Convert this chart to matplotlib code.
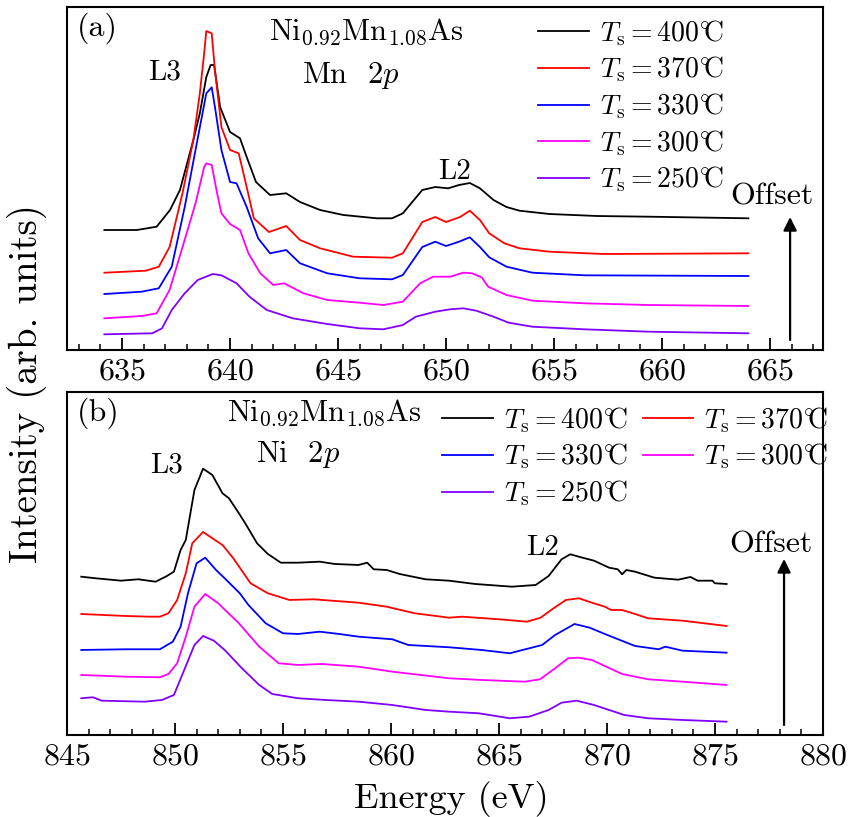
import matplotlib
matplotlib.use("Agg")
import matplotlib.pyplot as plt
from matplotlib.ticker import MultipleLocator

# ---- data (intensity in arb. units, offsets included) ----
labels = ["400", "370", "330", "300", "250"]
colors = ["black", "#ff0000", "#0000ff", "#ff00ff", "#8000ff"]

# (a) Mn 2p
e_mn400 = [634.18, 635.68, 636.6, 637.22, 637.68, 638.3, 638.6, 638.9, 639.1, 639.26, 639.54, 640.0,
           640.46, 640.77, 641.2, 641.85, 642.6, 643.24, 644.17, 645.25, 646.8, 647.5, 648.0, 648.9,
           649.5, 650.1, 650.6, 651.1, 651.57, 652.2, 652.8, 653.4, 654.8, 657.0, 659.44, 664.0]
i_mn400 = [120, 120, 123.3, 140, 160, 210, 236.7, 273, 285, 285, 243, 218,
           211.7, 193, 168, 155, 156.7, 148, 140, 135, 131.7, 131.7, 136.7, 160,
           163, 161.7, 165, 167, 161.7, 150, 143, 139.3, 136, 134, 133.3, 131.7]

e_mn370 = [634.18, 636.1, 636.7, 637.2, 637.8, 638.3, 638.6, 638.8, 638.9, 639.15, 639.3, 639.6,
           640.0, 640.4, 640.77, 641.1, 641.8, 642.6, 643.24, 644.17, 645.7, 647.5, 648.0, 648.9,
           649.5, 650.0, 650.65, 651.1, 651.57, 652.0, 652.7, 653.4, 654.8, 657.3, 664.0]
i_mn370 = [77.3, 79.3, 83.3, 103, 157, 210, 256.7, 296.7, 319, 316.7, 280, 223,
           200, 196.7, 163, 131.7, 118, 124, 110, 101.7, 93.3, 92.3, 96.7, 128,
           133, 128, 133, 139.3, 130, 116.7, 106.7, 101.7, 98.3, 96, 96.7]

e_mn330 = [634.18, 635.9, 636.7, 637.3, 637.9, 638.4, 638.9, 639.15, 639.3, 639.6, 640.0, 640.3,
           640.77, 641.3, 641.85, 642.6, 643.24, 644.5, 646.0, 647.5, 648.0, 648.9, 649.5, 650.0,
           650.6, 651.1, 651.57, 652.0, 652.8, 654.0, 656.4, 664.0]
i_mn330 = [56, 58.3, 61.7, 83.3, 143, 200, 256.7, 262.7, 243, 200, 168, 166.7,
           143, 111.7, 96.7, 100, 86.7, 76.7, 71.7, 70.7, 75, 103, 108.3, 104,
           108.3, 112.7, 103, 92.7, 83.3, 77.3, 74.7, 74]

e_mn300 = [634.18, 635.9, 636.6, 637.2, 637.8, 638.4, 638.8, 638.9, 639.15, 639.4, 639.6, 640.0,
           640.46, 640.85, 641.4, 642.0, 642.5, 643.4, 644.5, 646.0, 647.1, 648.0, 648.8, 649.4,
           650.19, 650.8, 651.2, 651.65, 651.95, 652.8, 654.0, 656.4, 659.4, 664.0]
i_mn300 = [31.7, 34, 36.7, 60, 103, 146.7, 183, 186.7, 185, 156.7, 136.7, 126,
           120, 96.7, 76.7, 65, 66.7, 56.7, 50, 47.3, 45, 48.3, 66.7, 73.3,
           73.3, 77.3, 76.7, 72.7, 63.3, 55, 49.3, 46.7, 45, 44]

e_mn250 = [634.18, 636.4, 636.85, 637.3, 637.9, 638.5, 639.2, 639.6, 640.3, 640.9, 641.7, 642.9,
           644.5, 646.0, 647.1, 648.0, 648.6, 649.5, 650.19, 650.8, 651.4, 652.2, 652.9, 654.0,
           656.4, 659.4, 664.0]
i_mn250 = [15.7, 16.7, 21.7, 40, 56.7, 70, 76, 74.7, 66.7, 53.3, 40, 31.7,
           26, 21.7, 20.7, 25, 33.3, 38.3, 40.7, 41.7, 39.3, 33.3, 27.3, 23.3,
           20.7, 18.3, 16.7]

# (b) Ni 2p
e_ni400 = [845.66, 846.33, 847.5, 848.3, 849.1, 849.57, 849.95, 850.26, 850.5, 850.9, 851.3, 851.73,
           852.2, 852.5, 852.96, 853.3, 853.8, 854.3, 854.9, 855.7, 856.7, 857.4, 858.5, 858.9,
           859.2, 859.8, 860.4, 861.6, 862.69, 863.9, 865.6, 866.7, 867.3, 867.9, 868.3, 868.8,
           869.4, 870.1, 870.5, 870.7, 870.9, 871.3, 872.2, 873.3, 873.87, 874.2, 874.88, 875.0,
           875.54]
i_ni400 = [158.3, 156.7, 154.3, 155.7, 153.3, 158.3, 163.3, 185, 195, 245, 266.3, 260,
           241.7, 236.7, 221.7, 210, 191.7, 181, 172.3, 172.3, 173.3, 171, 170, 172.3,
           165.7, 165, 161, 155.7, 154.3, 151, 148.3, 150, 159, 175.7, 180.7, 177.7,
           174.3, 167.3, 165.7, 160.7, 165, 163.3, 157.3, 155.3, 158, 154.3, 154.3, 151.7,
           151]

e_ni370 = [845.66, 847.7, 848.8, 849.3, 849.7, 850.1, 850.5, 850.8, 851.3, 851.73, 852.2, 852.7,
           853.5, 854.3, 855.3, 856.4, 858.5, 859.8, 861.1, 862.69, 863.3, 865.0, 866.3, 866.93,
           867.5, 868.1, 868.7, 869.3, 869.9, 870.2, 870.7, 871.3, 871.9, 873.5, 875.54]
i_ni370 = [121, 119, 118.3, 118.3, 121.7, 135, 161.7, 191.7, 203, 196.7, 190, 176.7,
           151.7, 141.7, 135, 135.7, 132.3, 128.3, 121.7, 117.3, 118.3, 115.7, 113.3, 117.3,
           126.3, 135, 136.7, 132.3, 128.3, 125, 125, 121, 116.7, 114.3, 109]

e_ni330 = [845.66, 847.7, 849.3, 849.9, 850.26, 850.6, 851.0, 851.4, 851.9, 852.3, 853.0, 853.4,
           854.2, 855.0, 855.7, 856.7, 857.6, 858.5, 860.06, 860.8, 862.69, 864.2, 865.5, 867.0,
           867.6, 868.5, 869.2, 869.9, 871.3, 872.4, 872.7, 873.5, 875.54]
i_ni330 = [85, 85.7, 85.7, 93.3, 108.3, 141.7, 171.7, 177.3, 165, 156.7, 141.7, 130,
           111.7, 101.7, 101, 103.3, 101, 98.3, 95.7, 90, 87.7, 85, 81.7, 90,
           100, 111, 107.3, 101, 89, 85.7, 88.3, 84.3, 82.3]

e_ni300 = [845.66, 847.7, 849.3, 849.7, 850.1, 850.5, 850.9, 851.4, 852.0, 852.96, 853.9, 854.8,
           855.7, 856.8, 858.5, 860.06, 862.69, 864.2, 866.2, 866.9, 867.6, 868.2, 868.7, 869.3,
           870.7, 871.9, 873.5, 875.54]
i_ni300 = [60, 58.3, 57.7, 61, 71.7, 98.3, 128.3, 141, 131.7, 111.7, 88.3, 71.7,
           70, 71, 68.3, 63.3, 56.7, 55, 53.3, 55.7, 66.7, 76.7, 77.3, 75,
           61, 55.7, 53.3, 50]

e_ni250 = [845.66, 846.2, 846.6, 848.6, 849.4, 849.95, 850.3, 850.9, 851.3, 851.8, 852.3, 853.1,
           853.9, 854.5, 855.7, 856.97, 858.5, 860.06, 861.6, 862.69, 864.06, 865.5, 866.4, 867.3,
           867.9, 868.6, 869.4, 870.8, 871.9, 873.5, 875.54]
i_ni250 = [36.7, 37.7, 34.3, 33.3, 35, 40, 58.3, 90, 99, 94.3, 85, 66.7,
           50, 41, 36.7, 35, 33.3, 30, 25, 23.3, 21.7, 16.7, 18.3, 25,
           32.3, 34.3, 30, 20, 16.7, 15, 13.3]

mn_curves = [(e_mn400, i_mn400), (e_mn370, i_mn370), (e_mn330, i_mn330),
             (e_mn300, i_mn300), (e_mn250, i_mn250)]
ni_curves = [(e_ni400, i_ni400), (e_ni370, i_ni370), (e_ni330, i_ni330),
             (e_ni300, i_ni300), (e_ni250, i_ni250)]

# ---- style ----
plt.rcParams['font.family'] = ['cmr10', 'DejaVu Serif']
plt.rcParams['mathtext.fontset'] = 'cm'
plt.rcParams['axes.formatter.use_mathtext'] = True
plt.rcParams.update({
    'font.size': 22,
    'axes.linewidth': 1.5,
    'xtick.direction': 'in',
    'xtick.major.size': 9,
    'xtick.minor.size': 4.5,
    'xtick.major.width': 1.3,
    'xtick.minor.width': 1.1,
    'xtick.major.pad': 6,
})
TXT = 22
LEG = 20

fig = plt.figure(figsize=(8.59, 8.17), dpi=100)
ax_a = fig.add_axes([0.078, 0.5716, 0.880, 0.4198])
ax_b = fig.add_axes([0.078, 0.1004, 0.880, 0.4198])


def leg_label(t):
    return r'$T_{\mathrm{s}}=' + t + r'^{\circ}\!\!\mathrm{C}$'


def setup(ax, xlim):
    ax.set_xlim(*xlim)
    ax.set_ylim(0, 343)
    ax.set_yticks([])
    ax.xaxis.set_major_locator(MultipleLocator(5))
    ax.xaxis.set_minor_locator(MultipleLocator(1))
    ax.tick_params(axis='x', which='both', top=False, labelsize=23)


leg_kw = dict(frameon=False, fontsize=LEG, handlelength=1.83, handletextpad=0.4,
              labelspacing=0.25, borderpad=0, borderaxespad=0)

# panel (a)
lines_a = []
for (e, i), c, t in zip(mn_curves, colors, labels):
    ln, = ax_a.plot(e, i, color=c, lw=1.3, label=leg_label(t))
    lines_a.append(ln)
setup(ax_a, (632.45, 667.45))
ax_a.legend(loc='upper left', bbox_to_anchor=(0.623, 0.968), **leg_kw)
ax_a.text(0.013, 0.985, '(a)', transform=ax_a.transAxes, ha='left', va='top', fontsize=23)
ax_a.text(646.3, 318, r'Ni$_{0.92}$Mn$_{1.08}$As', ha='center', va='center', fontsize=TXT)
ax_a.text(645.6, 275, r'Mn  2$p$', ha='center', va='center', fontsize=TXT)
ax_a.text(636.95, 278, 'L3', ha='center', va='center', fontsize=21)
ax_a.text(650.4, 178, 'L2', ha='center', va='center', fontsize=21)
ax_a.text(665.1, 153, 'Offset', ha='center', va='center', fontsize=23)
ax_a.annotate('', xy=(665.93, 133), xytext=(665.93, 10),
              arrowprops=dict(arrowstyle='-|>', color='black', lw=1.6,
                              mutation_scale=20, shrinkA=0, shrinkB=0))

# panel (b)
lines_b = []
for (e, i), c, t in zip(ni_curves, colors, labels):
    ln, = ax_b.plot(e, i, color=c, lw=1.3, label=leg_label(t))
    lines_b.append(ln)
setup(ax_b, (845, 880))
order = [0, 2, 4, 1, 3]
ax_b.legend([lines_b[k] for k in order], [lines_b[k].get_label() for k in order],
            ncol=2, loc='upper left', bbox_to_anchor=(0.496, 0.962), columnspacing=0.54,
            **leg_kw)
ax_b.text(0.013, 0.985, '(b)', transform=ax_b.transAxes, ha='left', va='top', fontsize=23)
ax_b.text(856.9, 322, r'Ni$_{0.92}$Mn$_{1.08}$As', ha='center', va='center', fontsize=TXT)
ax_b.text(855.7, 280, r'Ni  2$p$', ha='center', va='center', fontsize=TXT)
ax_b.text(849.6, 270, 'L3', ha='center', va='center', fontsize=21)
ax_b.text(867.0, 187, 'L2', ha='center', va='center', fontsize=21)
ax_b.text(877.6, 190, 'Offset', ha='center', va='center', fontsize=23)
ax_b.annotate('', xy=(878.2, 176), xytext=(878.2, 10),
              arrowprops=dict(arrowstyle='-|>', color='black', lw=1.6,
                              mutation_scale=20, shrinkA=0, shrinkB=0))
ax_b.set_xlabel('Energy (eV)', fontsize=26, labelpad=4)
ax_b.xaxis.set_label_coords(0.508, -0.135)

fig.text(0.031, 0.531, 'Intensity (arb. units)', rotation=90, ha='center', va='center',
         fontsize=28)

fig.savefig('out.png', dpi=100)
